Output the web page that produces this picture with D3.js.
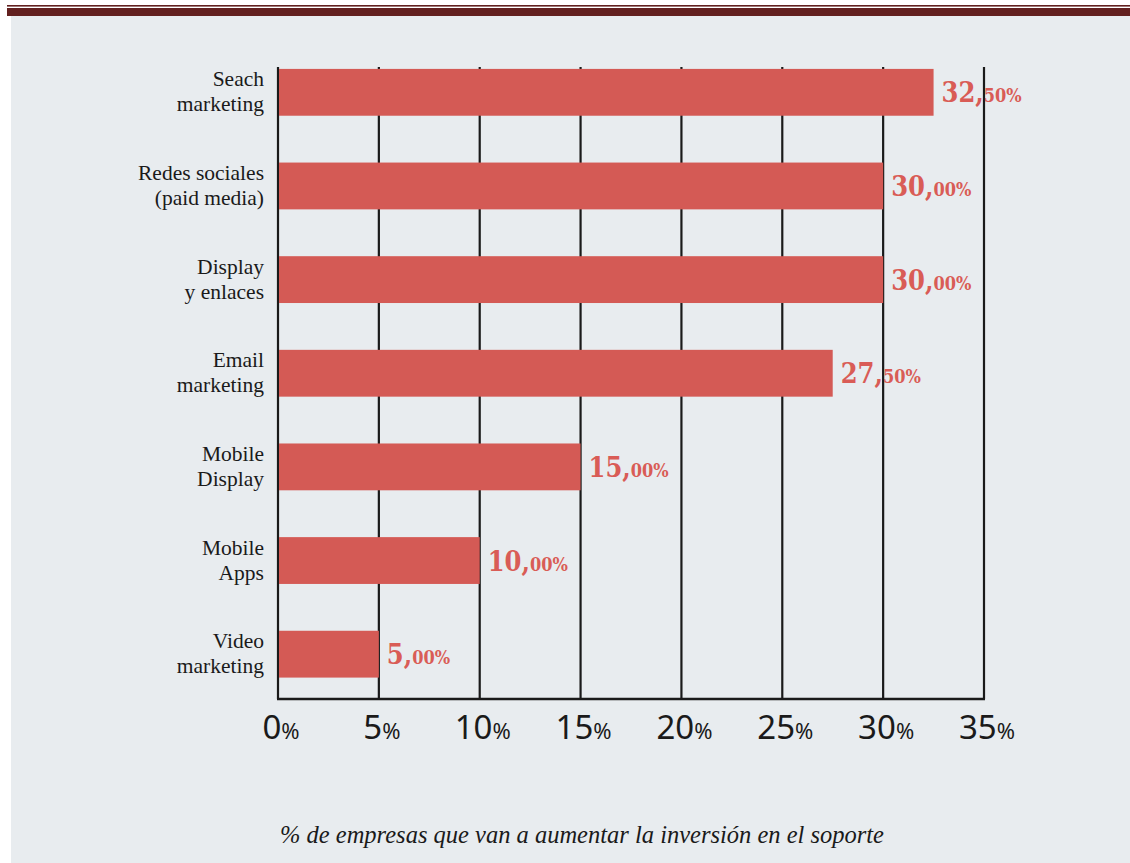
<!DOCTYPE html>
<html>
<head>
<meta charset="utf-8">
<script src="https://cdn.jsdelivr.net/npm/d3@7"></script>
<style>
  html, body { margin: 0; padding: 0; background: #fff; }
  svg { display: block; }
</style>
</head>
<body>
<div id="chart"></div>
<script>
// categories, top to bottom (two label lines each)
const categories = ["Seach marketing", "Redes sociales (paid media)", "Display y enlaces",
  "Email marketing", "Mobile Display", "Mobile Apps", "Video marketing"];
const labelLines = [["Seach", "marketing"], ["Redes sociales", "(paid media)"], ["Display", "y enlaces"],
  ["Email", "marketing"], ["Mobile", "Display"], ["Mobile", "Apps"], ["Video", "marketing"]];
const values = [32.5, 30, 30, 27.5, 15, 10, 5];
const ticks = [0, 5, 10, 15, 20, 25, 30, 35];
const caption = "% de empresas que van a aumentar la inversión en el soporte";

const W = 1130, H = 863;
const red = "#d45a55";

let svg = d3.select("#chart").append("svg")
    .attr("width", W)
    .attr("height", H);

// page frame
svg.append("rect").attr("x", 0).attr("y", 0).attr("width", W).attr("height", H).attr("fill", "#fff");
svg.append("rect").attr("x", 11).attr("y", 16).attr("width", W - 11).attr("height", H - 16).attr("fill", "#e8ecef");
svg.append("rect").attr("x", 7).attr("y", 5).attr("width", W - 7).attr("height", 1.6).attr("fill", "#62201f");
svg.append("rect").attr("x", 7).attr("y", 8).attr("width", W - 7).attr("height", 8).attr("fill", "#62201f");

let x = d3.scaleLinear()
    .domain([0, 35])
    .range([278, 984]);

let y = d3.scaleBand()
    .domain(categories)
    .range([45.5, 701])
    .paddingInner(0.5)
    .paddingOuter(0.25);

const plotTop = 67;
const plotBottom = 699;

// vertical grid lines (behind bars)
svg.append("g").selectAll("line")
    .data(ticks)
    .enter()
    .append("line")
    .attr("x1", d => x(d))
    .attr("x2", d => x(d))
    .attr("y1", plotTop)
    .attr("y2", plotBottom)
    .attr("stroke", "#1a1a1a")
    .attr("stroke-width", 2.2);

// x axis line
svg.append("line")
    .attr("x1", x(0) - 1).attr("x2", x(35) + 1)
    .attr("y1", plotBottom).attr("y2", plotBottom)
    .attr("stroke", "#1a1a1a")
    .attr("stroke-width", 2.4);

// bars
svg.append("g").selectAll("rect")
    .data(values)
    .enter()
    .append("rect")
    .attr("x", x(0) + 1)
    .attr("y", (d, i) => y(categories[i]))
    .attr("width", d => x(d) - x(0) - 1)
    .attr("height", y.bandwidth())
    .attr("fill", red);

// value labels: big integer part, small decimals
let vl = svg.append("g").selectAll("text")
    .data(values)
    .enter()
    .append("text")
    .attr("x", d => x(d) + 8)
    .attr("y", (d, i) => y(categories[i]) + y.bandwidth() / 2 + 10)
    .attr("fill", "#d95c56")
    .attr("font-family", "'DejaVu Serif Condensed', 'DejaVu Serif', serif")
    .attr("font-stretch", "condensed")
    .attr("font-weight", "bold");
vl.append("tspan")
    .attr("font-size", 27)
    .text(d => Math.floor(d) + ",");
vl.append("tspan")
    .attr("font-size", 18)
    .text(d => d3.format("02d")(Math.round((d % 1) * 100)) + "%");

// category labels
let cl = svg.append("g").selectAll("text")
    .data(labelLines)
    .enter()
    .append("text")
    .attr("text-anchor", "end")
    .attr("font-family", "'Liberation Serif', serif")
    .attr("font-size", 21.5)
    .attr("fill", "#1a1a1a");
cl.append("tspan")
    .attr("x", 264)
    .attr("y", (d, i) => y(categories[i]) + y.bandwidth() / 2 - 6)
    .text(d => d[0]);
cl.append("tspan")
    .attr("x", 264)
    .attr("y", (d, i) => y(categories[i]) + y.bandwidth() / 2 + 19)
    .text(d => d[1]);

// tick labels
let tl = svg.append("g").selectAll("text")
    .data(ticks)
    .enter()
    .append("text")
    .attr("x", d => x(d) + 3)
    .attr("y", 739)
    .attr("text-anchor", "middle")
    .attr("font-family", "'Noto Sans', sans-serif")
    .attr("fill", "#1a1a1a");
tl.append("tspan").attr("font-size", 33).text(d => d);
tl.append("tspan").attr("font-size", 22).text("%");

// caption
svg.append("text")
    .attr("x", 582)
    .attr("y", 843)
    .attr("text-anchor", "middle")
    .attr("font-family", "'Liberation Serif', serif")
    .attr("font-style", "italic")
    .attr("font-size", 24.5)
    .attr("fill", "#1a1a1a")
    .text(caption);
</script>
</body>
</html>
